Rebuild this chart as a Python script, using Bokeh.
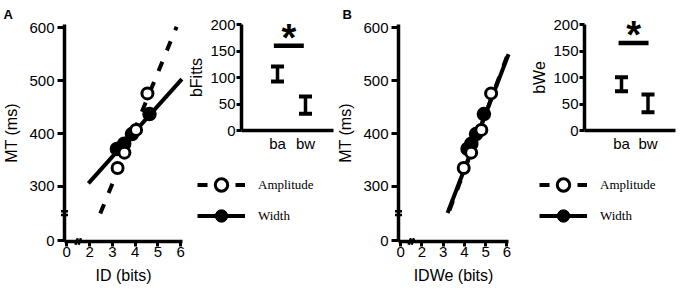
from bokeh.plotting import figure
from bokeh.layouts import row
from bokeh.models import Range1d, FixedTicker, Legend, LegendItem, Label
from bokeh.core.properties import value
from bokeh.embed import file_html
from bokeh.resources import INLINE

# ---------------- data ----------------
# movement time (ms), shared by both panels
amp_mt = [335, 364, 407, 476]
wid_mt = [371, 381, 399, 437]

# Panel A: ID (bits)
a_amp_id = [3.23, 3.53, 4.04, 4.54]
a_wid_id = [3.20, 3.52, 3.86, 4.63]
a_amp_fit_id = [2.47, 5.82]
a_amp_fit_mt = [249, 602]
a_wid_fit_id = [1.95, 6.05]
a_wid_fit_mt = [306, 503]

# Panel B: IDWe (bits)
b_amp_id = [3.97, 4.32, 4.80, 5.26]
b_wid_id = [4.15, 4.33, 4.55, 4.92]
b_amp_fit_id = [3.30, 6.00]
b_amp_fit_mt = [255, 545]
b_wid_fit_id = [3.21, 6.08]
b_wid_fit_mt = [250, 550]

# broken axes: the "0" ticks sit just past the break
x_ticks = [1, 2, 3, 4, 5, 6]
x_tick_labels = ["0", "2", "3", "4", "5", "6"]
y_ticks = [197, 300, 400, 500, 600]
y_tick_labels = ["0", "300", "400", "500", "600"]
y_break = [246, 253]
x_break = [1.43, 1.57]

# insets: slope estimates
slope_cats = ["ba", "bw"]
slope_pos = [1, 2]
a_slope_low = [92.5, 31.5]
a_slope_high = [121, 64]
b_slope_low = [74, 34.5]
b_slope_high = [100.6, 68]
inset_ticks = [0, 50, 100, 150, 200]
a_sig = [0.87, 1.94, 160]
b_sig = [0.89, 2.02, 165]

FONT = "Liberation Sans"
BLACK = "black"
NAN = float("nan")

# main axes extents (data units); axes are drawn at fixed locations
MX0, MX1 = 0.9, 6.08
MY0, MY1 = 196, 606


def style_axis(ax, tick_out, standoff, label_standoff):
    ax.axis_line_width = 3.5
    ax.axis_line_color = BLACK
    ax.major_tick_line_width = 3
    ax.major_tick_line_color = BLACK
    ax.major_tick_in = 0
    ax.major_tick_out = tick_out
    ax.minor_tick_line_color = None
    ax.major_label_text_font = FONT
    ax.major_label_text_font_size = "15px"
    ax.major_label_text_color = BLACK
    ax.major_label_standoff = standoff
    ax.axis_label_text_font = FONT
    ax.axis_label_text_font_size = "16px"
    ax.axis_label_text_font_style = "normal"
    ax.axis_label_text_color = BLACK
    ax.axis_label_standoff = label_standoff


def base_fig(width, xr, yr):
    p = figure(width=width, height=294, x_range=Range1d(*xr),
               y_range=Range1d(*yr), output_backend="svg",
               toolbar_location=None, min_border=0)
    p.grid.visible = False
    p.outline_line_color = None
    return p


def main_fig(width, xr, letter, letter_x, xlabel, amp_id, wid_id,
             amp_fit_id, amp_fit_mt, wid_fit_id, wid_fit_mt):
    p = base_fig(width, xr, (95.8, 651.6))
    p.xaxis.axis_label = xlabel
    p.yaxis.axis_label = "MT (ms)"
    p.xaxis.fixed_location = MY0
    p.xaxis.bounds = (MX0, MX1)
    p.yaxis.fixed_location = MX0
    p.yaxis.bounds = (MY0, MY1)
    p.xaxis.ticker = FixedTicker(ticks=x_ticks)
    p.xaxis.major_label_overrides = dict(zip(x_ticks, x_tick_labels))
    p.yaxis.ticker = FixedTicker(ticks=y_ticks)
    p.yaxis.major_label_overrides = dict(zip(y_ticks, y_tick_labels))
    style_axis(p.xaxis[0], 5, 1, 6)
    style_axis(p.yaxis[0], 7, 3, 6)

    # panel letter (screen offsets from the lower-left corner)
    p.add_layout(Label(x=letter_x, y=280, x_units="screen", y_units="screen",
                       text=letter, text_font=FONT, text_font_size="13px",
                       text_font_style="bold", text_color=BLACK,
                       text_baseline="alphabetic", text_align="left"))

    # axis break marks
    p.scatter(x=[MX0] * len(y_break), y=y_break, marker="dash", size=7,
              line_width=2.5, color=BLACK)
    p.scatter(x=x_break, y=[MY0] * len(x_break), marker="dash", size=7,
              angle=1.2, line_width=2.5, color=BLACK)

    p.line(amp_fit_id, amp_fit_mt, line_width=4, line_dash="10 12", color=BLACK)
    p.line(wid_fit_id, wid_fit_mt, line_width=4, color=BLACK)
    p.scatter(wid_id, wid_mt, marker="circle", size=13, fill_color=BLACK,
              line_color=BLACK, line_width=1.5)
    p.scatter(amp_id, amp_mt, marker="circle", size=11, fill_color="white",
              line_color=BLACK, line_width=3)
    return p


def right_fig(width, xr, axis_x, axis_end, ylabel, low, high, sig, leg_x):
    """Inset (slopes) with its axes drawn at fixed locations, plus legend."""
    q = base_fig(width, xr, (-309.4, 245.3))
    q.yaxis.axis_label = ylabel
    q.yaxis.fixed_location = axis_x
    q.yaxis.bounds = (0, 200)
    q.xaxis.fixed_location = 0
    q.xaxis.bounds = (axis_x, axis_end)
    q.xaxis.ticker = FixedTicker(ticks=slope_pos)
    q.xaxis.major_label_overrides = dict(zip(slope_pos, slope_cats))
    q.yaxis.ticker = FixedTicker(ticks=inset_ticks)
    style_axis(q.xaxis[0], 0, 4, 4)
    style_axis(q.yaxis[0], 5, 1, 2)
    q.xaxis.major_tick_line_color = None

    q.segment(x0=slope_pos, y0=low, x1=slope_pos, y1=high, line_width=3.5,
              color=BLACK)
    q.scatter(x=slope_pos + slope_pos, y=low + high, marker="dash", size=13,
              line_width=4, color=BLACK)
    q.segment(x0=[sig[0]], y0=[sig[2]], x1=[sig[1]], y1=[sig[2]],
              line_width=4.5, color=BLACK)
    q.text(x=[(sig[0] + sig[1]) / 2], y=[sig[2] + 15], text=["*"],
           text_font=value(FONT), text_font_size="38px",
           text_font_style="bold", text_align="center",
           text_baseline="alphabetic", text_color=BLACK)

    # legend proxies: one NaN point each, so nothing is drawn in the frame
    la = q.line(x=[NAN], y=[NAN], line_width=4, line_dash="10 28", color=BLACK)
    sa = q.scatter(x=[NAN], y=[NAN], marker="circle", fill_color="white",
                   line_color=BLACK, line_width=3)
    lw = q.line(x=[NAN], y=[NAN], line_width=4, color=BLACK)
    sw = q.scatter(x=[NAN], y=[NAN], marker="circle", fill_color=BLACK,
                   line_color=BLACK, line_width=1)
    leg = Legend(items=[LegendItem(label="Amplitude", renderers=[la, sa]),
                        LegendItem(label="Width", renderers=[lw, sw])],
                 location=(leg_x, 63), glyph_width=48, glyph_height=31,
                 spacing=0, padding=0, margin=0, border_line_color=None,
                 background_fill_alpha=0, label_standoff=13,
                 label_height=16,
                 label_text_font="Liberation Serif",
                 label_text_font_size="13px", label_text_color=BLACK)
    q.add_layout(leg)
    return q


pA = main_fig(185, (-1.909, 6.21), "A", 3, "ID (bits)", a_amp_id, a_wid_id,
              a_amp_fit_id, a_amp_fit_mt, a_wid_fit_id, a_wid_fit_mt)
rA = right_fig(149, (-2.286, 3.036), -0.286, 3.0, "bFitts",
               a_slope_low, a_slope_high, a_sig, 12)

pB = main_fig(194, (-2.113, 7.02), "B", 8, "IDWe (bits)", b_amp_id, b_wid_id,
              b_amp_fit_id, b_amp_fit_mt, b_wid_fit_id, b_wid_fit_mt)
rB = right_fig(152, (-2.509, 3.226), -0.396, 3.04, "bWe",
               b_slope_low, b_slope_high, b_sig, 11)

layout = row(pA, rA, pB, rB)

open("out.html", "w").write(file_html(layout, INLINE))
